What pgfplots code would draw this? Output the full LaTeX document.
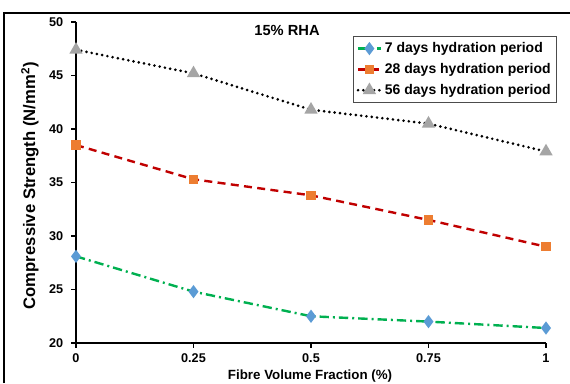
\documentclass[border=0pt]{standalone}
\usepackage{pgfplots}
\pgfplotsset{compat=1.18}
\usepackage{fontspec}
\setmainfont{Liberation Sans}
\definecolor{cgreen}{HTML}{00B050}
\definecolor{cblue}{HTML}{5B9BD5}
\definecolor{cred}{HTML}{C00000}
\definecolor{corange}{HTML}{ED7D31}
\definecolor{cgray}{HTML}{A5A5A5}
\begin{document}
\begin{tikzpicture}
\useasboundingbox (0,0) rectangle (427.5pt,287.25pt);
\begin{axis}[
  at={(57pt,30pt)}, anchor=south west,
  scale only axis, width=352.5pt, height=240.75pt,
  xmin=0, xmax=1, ymin=20, ymax=50,
  xtick={0,0.25,0.5,0.75,1},
  xticklabels={0,0.25,0.5,0.75,1},
  ytick={20,25,...,50},
  axis lines*=left,
  axis line style={line width=1.5pt},
  tick style={line width=1.2pt, black},
  tick align=outside,
  major tick length=3.5pt,
  /pgf/number format/assume math mode=true,
  ticklabel style={font=\fontsize{9.5}{11}\selectfont\bfseries},
  yticklabel style={xshift=-2.5pt},
  xticklabel style={yshift=-1pt},
  xlabel={Fibre Volume Fraction (\%)},
  ylabel={Compressive Strength (N/mm\textsuperscript{2})},
  xlabel style={font=\fontsize{10}{12}\selectfont\bfseries, at={(axis description cs:0.498,-0.104)}, anchor=center},
  ylabel style={font=\fontsize{12.5}{14}\selectfont\bfseries, at={(axis description cs:-0.098,0.49)}, anchor=center},
  legend style={at={(0.589,0.956)}, anchor=north west, font=\fontsize{10.5}{12}\selectfont\bfseries, draw=black!70, line width=0.6pt, row sep=2.5pt, inner sep=2.5pt},
  legend cell align=left,
  clip=false,
]
\addplot[cgreen, line width=1.8pt, dash pattern=on 7pt off 3pt on 1.5pt off 3pt, mark=diamond*, mark size=3.5pt, mark options={solid, fill=cblue, draw=cblue}]
 coordinates {(0,28.1) (0.25,24.8) (0.5,22.5) (0.75,22.0) (1,21.4)};
\addlegendentry{7 days hydration period}
\addplot[cred, line width=1.8pt, dash pattern=on 6pt off 4pt, mark=square*, mark size=2.6pt, mark options={solid, fill=corange, draw=corange}]
 coordinates {(0,38.5) (0.25,35.3) (0.5,33.8) (0.75,31.5) (1,29.0)};
\addlegendentry{28 days hydration period}
\addplot[black, line width=2.2pt, line cap=round, dash pattern=on 0pt off 4pt, mark=triangle*, mark size=3.6pt, mark options={solid, fill=cgray, draw=cgray}]
 coordinates {(0,47.4) (0.25,45.2) (0.5,41.8) (0.75,40.5) (1,37.9)};
\addlegendentry{56 days hydration period}
\node[font=\fontsize{11}{13}\selectfont\bfseries] at (rel axis cs:0.449,0.975) {15\% RHA};
\end{axis}
\draw[line width=1.5pt] (3pt,0) -- (3pt,277.5pt) -- (427.5pt,277.5pt);
\end{tikzpicture}
\end{document}
